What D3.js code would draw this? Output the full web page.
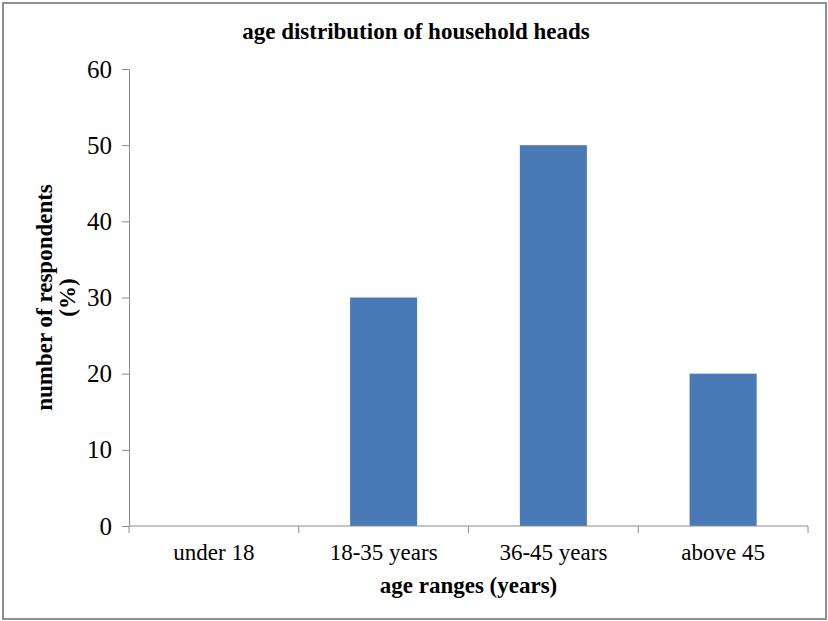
<!DOCTYPE html>
<html>
<head>
<meta charset="utf-8">
<script src="https://cdn.jsdelivr.net/npm/d3@7"></script>
<style>
  html, body { margin: 0; padding: 0; background: #fff; }
  svg { display: block; }
</style>
</head>
<body>
<script>
// Age distribution of household heads (% of respondents)
const categories = ["under 18", "18-35 years", "36-45 years", "above 45"];
const values = [0, 30, 50, 20];
const yTicks = [0, 10, 20, 30, 40, 50, 60];

const W = 828, H = 621;
const margin = { left: 129, top: 69 };
const plotRight = 808;
const plotBottom = 526;

const svg = d3.select("body").append("svg")
  .attr("width", W).attr("height", H);

// outer frame
svg.append("rect")
  .attr("x", 3).attr("y", 3)
  .attr("width", 823).attr("height", 616)
  .attr("fill", "#fff")
  .attr("stroke", "#8e9194")
  .attr("stroke-width", 2);

const x = d3.scaleBand()
  .domain(categories)
  .range([margin.left, plotRight])
  .paddingInner(0.605)
  .paddingOuter(0.3025);

const y = d3.scaleLinear()
  .domain([0, 60])
  .range([plotBottom, margin.top]);

const font = "'Liberation Serif', 'Times New Roman', serif";
const axisColor = "#8c8c8c";

// bars
svg.append("g").selectAll("rect")
  .data(values)
  .join("rect")
  .attr("x", (d, i) => x(categories[i]))
  .attr("y", d => y(d))
  .attr("width", x.bandwidth())
  .attr("height", d => y(0) - y(d))
  .attr("fill", "#4a7ab5");

// y axis
const yAxis = svg.append("g")
  .attr("transform", `translate(${margin.left},0)`)
  .call(d3.axisLeft(y).tickValues(yTicks).tickSize(7).tickPadding(10).tickSizeOuter(0));
yAxis.select(".domain").attr("stroke", axisColor);
yAxis.selectAll(".tick line").attr("stroke", axisColor);
yAxis.selectAll(".tick text")
  .attr("font-family", font).attr("font-size", 25).attr("fill", "#000");

// x axis: ticks on category boundaries
const xLine = svg.append("g").attr("transform", `translate(0,${plotBottom})`);
xLine.append("line")
  .attr("x1", margin.left).attr("x2", plotRight)
  .attr("stroke", axisColor);
const step = x.step();
const boundaries = d3.range(categories.length + 1).map(i => x(categories[0]) - x.paddingOuter() * step + i * step);
xLine.selectAll("line.tk")
  .data(boundaries)
  .join("line")
  .attr("class", "tk")
  .attr("x1", d => d).attr("x2", d => d)
  .attr("y1", 0).attr("y2", 7)
  .attr("stroke", axisColor);
xLine.selectAll("text")
  .data(categories)
  .join("text")
  .attr("x", d => x(d) + x.bandwidth() / 2)
  .attr("y", 34)
  .attr("text-anchor", "middle")
  .attr("font-family", font).attr("font-size", 23)
  .attr("fill", "#000")
  .text(d => d);

// title
svg.append("text")
  .attr("x", 416).attr("y", 39)
  .attr("text-anchor", "middle")
  .attr("font-family", font).attr("font-weight", "bold").attr("font-size", 23)
  .text("age distribution of household heads");

// x axis title
svg.append("text")
  .attr("x", (margin.left + plotRight) / 2).attr("y", 593)
  .attr("text-anchor", "middle")
  .attr("font-family", font).attr("font-weight", "bold").attr("font-size", 23)
  .text("age ranges (years)");

// y axis title (two lines)
const yTitle = svg.append("text")
  .attr("transform", `translate(0,${(margin.top + plotBottom) / 2}) rotate(-90)`)
  .attr("text-anchor", "middle")
  .attr("font-family", font).attr("font-weight", "bold").attr("font-size", 23);
yTitle.append("tspan").attr("x", 0).attr("y", 52).text("number of respondents");
yTitle.append("tspan").attr("x", 0).attr("y", 75).text("(%)");
</script>
</body>
</html>
